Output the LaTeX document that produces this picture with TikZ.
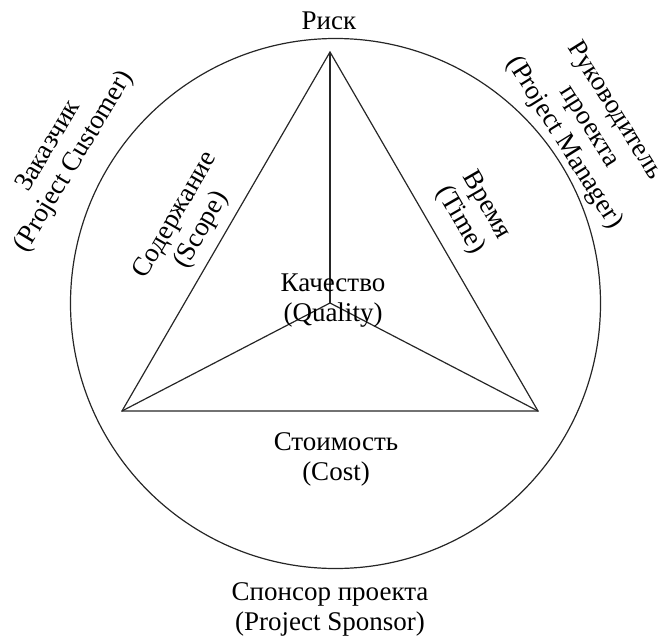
\documentclass[tikz,border=0pt]{standalone}
\usepackage{fontspec}
\setmainfont{Liberation Serif}
\begin{document}
\begin{tikzpicture}[x=1pt,y=-1pt,
  line/.style={draw=black!85,line width=1.2pt},
  lbl/.style={inner sep=0pt,align=center,font=\fontsize{27}{30}\selectfont}]
\useasboundingbox (0,0) rectangle (661,637);
% outer ring of stakeholders
\node[circle,line,minimum size=530pt,inner sep=0pt] (ring) at (335.5,303.5) {};
% triangle vertices and central joint
\coordinate (apex) at (330,52);
\coordinate (lv) at (122,411);
\coordinate (rv) at (538,411);
\coordinate (mid) at (330,303);
\draw[line,line join=miter] (apex) -- (lv) -- (rv) -- cycle;
\draw[line] (mid) -- (apex);
\draw[line] (mid) -- (lv);
\draw[line] (mid) -- (rv);
% labels
\node[lbl] (risk) at (329,21) {Риск};
\node[lbl] (quality) at (333,301) {Качество\\(Quality)};
\node[lbl] (cost) at (336,459) {Стоимость\\(Cost)};
\node[lbl,rotate=60] (scope) at (189,223) {Содержание\\(Scope)};
\node[lbl,rotate=-60] (time) at (473,213) {Время\\(Time)};
\node[lbl,rotate=59] (customer) at (62,154) {Заказчик\\(Project Customer)};
\node[lbl,rotate=-58] (manager) at (589,127) {Руководитель\\проекта\\(Project Manager)};
\node[lbl] (sponsor) at (330,609) {Спонсор проекта\\(Project Sponsor)};
\end{tikzpicture}
\end{document}
